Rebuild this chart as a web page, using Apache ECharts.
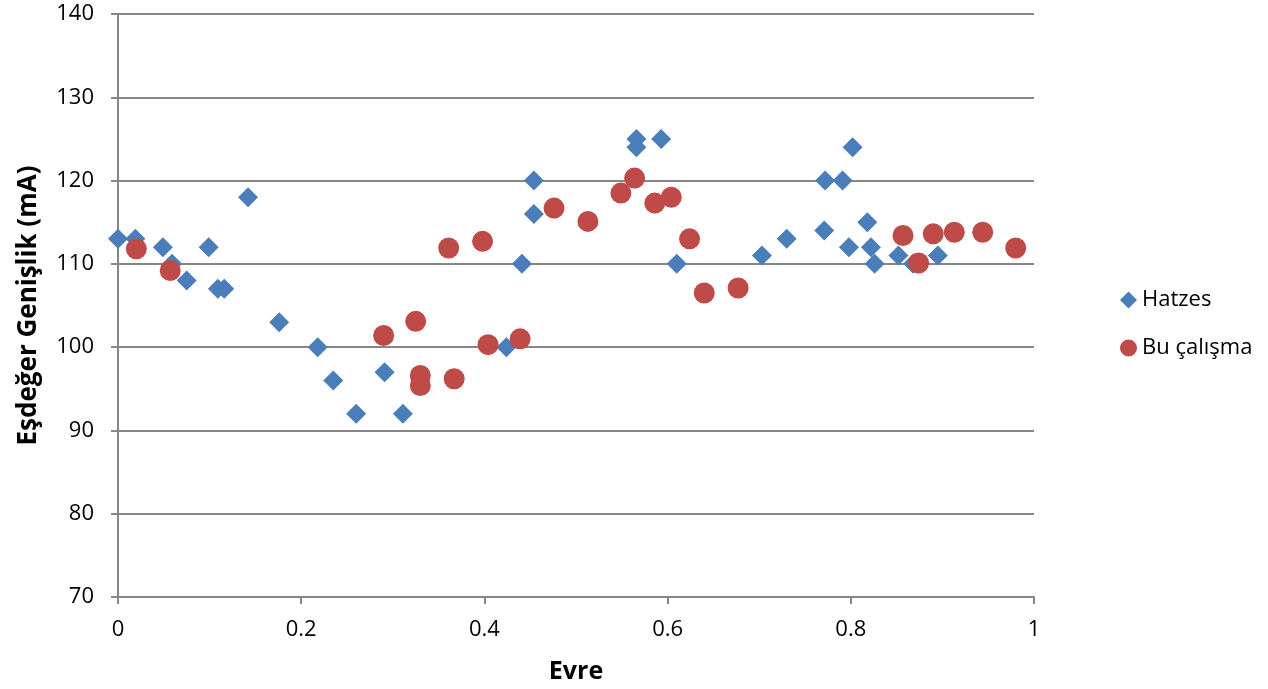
<!DOCTYPE html>
<html><head><meta charset="utf-8">
<script src="https://cdn.jsdelivr.net/npm/echarts@6/dist/echarts.min.js"></script>
<style>html,body{margin:0;padding:0;background:#fff}#c{width:1268px;height:689px}</style>
</head><body><div id="c"></div>
<script>
const seriesNames = ['Hatzes', 'Bu çalışma'];
const hatzesPhase = [0, 0.019, 0.049, 0.059, 0.075, 0.099, 0.109, 0.116, 0.142, 0.176, 0.218, 0.235, 0.260, 0.291, 0.311, 0.424, 0.441, 0.454, 0.454, 0.566, 0.566, 0.593, 0.610, 0.703, 0.730, 0.771, 0.772, 0.791, 0.802, 0.798, 0.818, 0.822, 0.826, 0.852, 0.868, 0.895];
const hatzesWidth = [113, 113, 112, 110, 108, 112, 107, 107, 118, 103, 100, 96, 92, 97, 92, 100, 110, 120, 116, 124, 125, 125, 110, 111, 113, 114, 120, 120, 124, 112, 115, 112, 110, 111, 110, 111];
const buPhase = [0.020, 0.057, 0.290, 0.325, 0.330, 0.330, 0.367, 0.361, 0.398, 0.404, 0.439, 0.476, 0.513, 0.549, 0.564, 0.586, 0.604, 0.624, 0.640, 0.677, 0.857, 0.874, 0.890, 0.913, 0.944, 0.980];
const buWidth = [111.8, 109.2, 101.4, 103.1, 96.6, 95.4, 96.2, 111.9, 112.7, 100.3, 101.0, 116.7, 115.1, 118.5, 120.3, 117.3, 118.0, 113.0, 106.5, 107.1, 113.4, 110.1, 113.6, 113.8, 113.8, 111.9];

const font = '"Open Sans", "Liberation Sans", sans-serif';
const chart = echarts.init(document.getElementById('c'));
chart.setOption({
  animation: false,
  textStyle: { fontFamily: font },
  grid: { left: 118, right: 234, top: 14, bottom: 90, containLabel: false },
  xAxis: {
    type: 'value', min: 0, max: 1, interval: 0.2,
    name: 'Evre', nameLocation: 'middle', nameGap: 62,
    nameTextStyle: { fontFamily: font, fontSize: 25, fontWeight: 'bold', color: '#000' },
    axisLine: { show: true, lineStyle: { color: '#868686', width: 2 } },
    axisTick: { show: true, length: 7, lineStyle: { color: '#868686', width: 2 } },
    axisLabel: { fontSize: 22, color: '#000', margin: 22, formatter: v => String(Math.round(v * 10) / 10) },
    splitLine: { show: false }
  },
  yAxis: {
    type: 'value', min: 70, max: 140, interval: 10,
    name: 'Eşdeğer Genişlik (mA)', nameLocation: 'middle', nameGap: 76,
    nameTextStyle: { fontFamily: font, fontSize: 26, fontWeight: 'bold', color: '#000' },
    axisLine: { show: true, lineStyle: { color: '#868686', width: 2 } },
    axisTick: { show: true, length: 7, lineStyle: { color: '#868686', width: 2 } },
    axisLabel: { fontSize: 22, color: '#000', margin: 24 },
    splitLine: { show: true, lineStyle: { color: '#868686', width: 2 } }
  },
  legend: {
    orient: 'vertical', left: 1115, top: 284, itemGap: 26,
    itemWidth: 17, itemHeight: 17,
    textStyle: { fontFamily: font, fontSize: 22, color: '#000' },
    data: [{ name: seriesNames[0], icon: 'diamond' }, { name: seriesNames[1], icon: 'circle' }]
  },
  series: [
    {
      name: seriesNames[0], type: 'scatter', symbol: 'diamond', symbolSize: 20,
      itemStyle: { color: '#4A7EBB', opacity: 1 },
      data: hatzesPhase.map((x, i) => [x, hatzesWidth[i]])
    },
    {
      name: seriesNames[1], type: 'scatter', symbol: 'circle', symbolSize: 21,
      itemStyle: { color: '#BE4B48', opacity: 1 },
      data: buPhase.map((x, i) => [x, buWidth[i]])
    }
  ]
});
</script></body></html>
